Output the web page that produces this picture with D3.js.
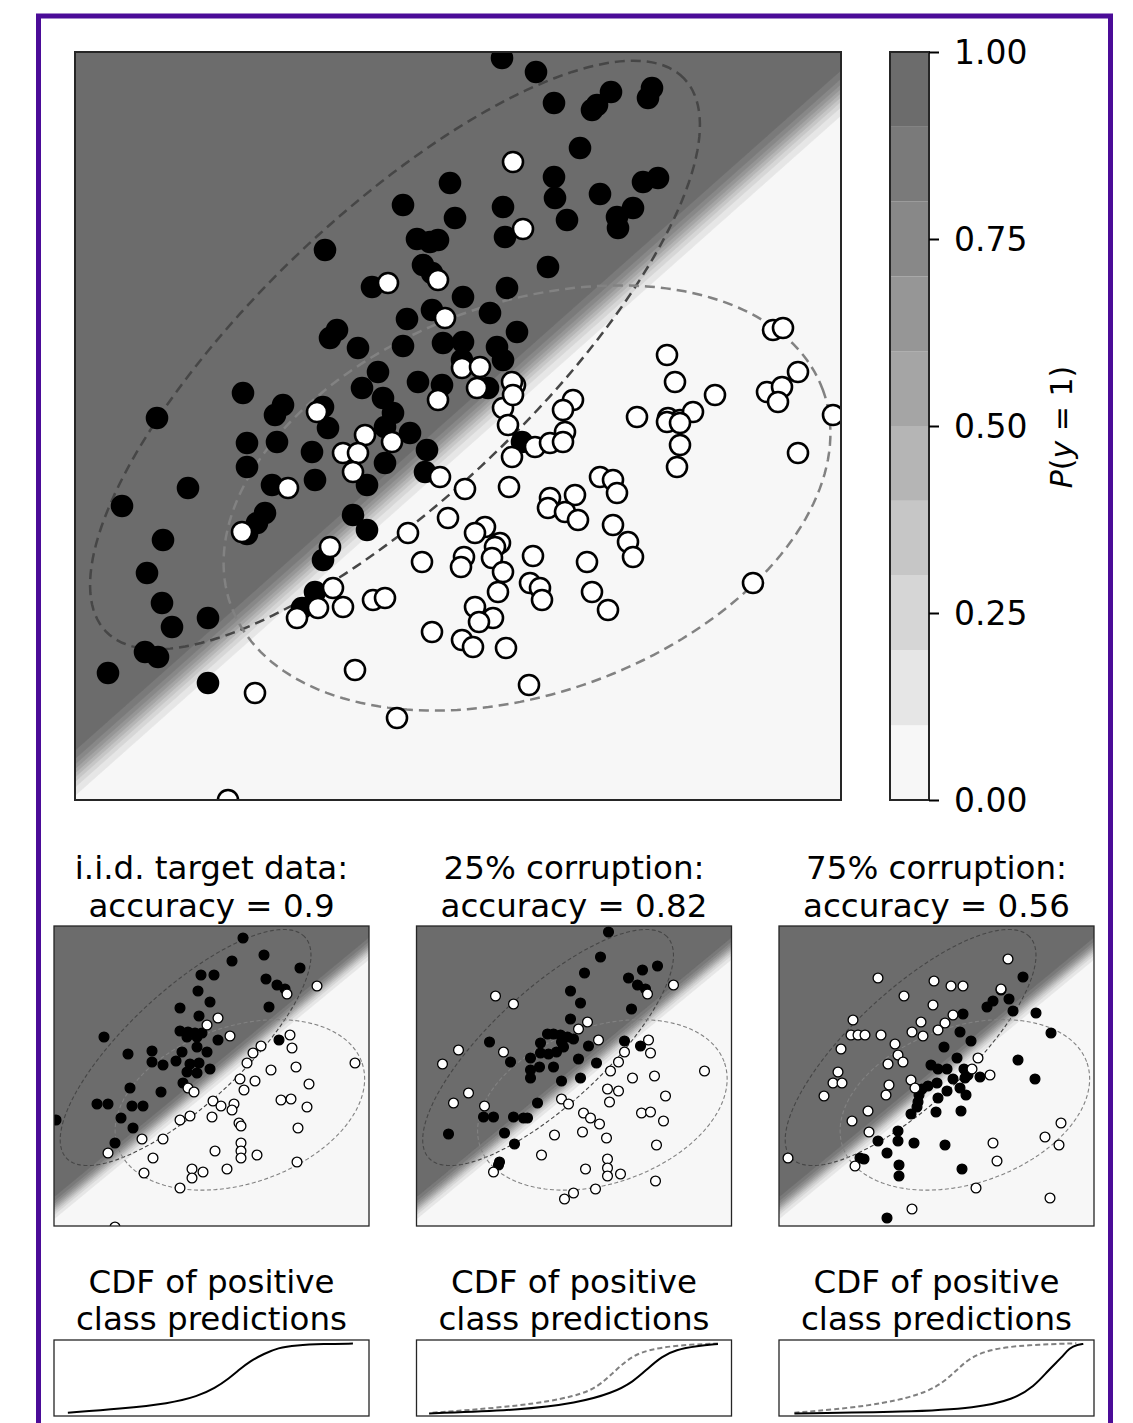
<!DOCTYPE html>
<html><head><meta charset="utf-8">
<script src="https://cdn.jsdelivr.net/npm/d3@7"></script>
<style>body{margin:0;background:#fff} svg{display:block} text{font-family:"DejaVu Sans",sans-serif;fill:#000}</style>
</head><body>
<svg id="fig" width="1133" height="1423"></svg>
<script>
// ---------------- DATA ----------------
// main scatter (data units), positive class (black) and negative class (white)
const mainPos = [[37.5,61.7],[32.8,59.5],[38.0,58.2],[34.2,56.1],[36.3,56.0],[35.5,55.8],[25.0,55.0],[34.8,53.5],[29.7,51.3],[35.7,52.7],[38.8,50.3],[33.2,48.1],[35.7,49.0],[26.2,47.0],[25.5,46.2],[28.3,45.2],[32.8,45.4],[36.8,45.7],[38.7,44.0],[30.3,42.8],[28.7,41.2],[30.8,40.2],[34.3,41.8],[36.7,41.5],[16.8,40.7],[20.8,39.5],[8.2,38.2],[20.0,38.5],[24.8,39.3],[31.8,38.7],
[42.7,74.2],[46.1,72.8],[47.9,69.7],[53.6,70.8],[52.2,69.5],[51.7,69.0],[57.7,71.2],[57.3,70.2],[50.5,65.2],[47.9,62.3],[48.0,60.2],[52.5,60.6],[56.8,61.8],[58.3,62.2],[42.8,59.3],[49.2,58.0],[54.2,58.3],[55.8,59.2],[54.3,57.2],[43.0,56.3],[47.3,53.3],[43.2,51.2],[41.5,48.7],[44.2,46.8],[38.8,45.8],[42.2,45.3],[42.8,44.0],[41.3,41.2],
[25.3,37.2],[31.0,37.3],[33.5,36.7],[17.2,35.7],[20.2,35.8],[23.7,34.8],[35.2,35.0],[31.0,33.7],[17.2,33.3],[35.0,32.8],[11.3,31.2],[19.7,31.5],[24.0,32.0],[29.2,31.5],[4.7,29.4],[19.0,28.7],[18.2,27.7],[17.2,26.6],[27.8,28.5],[29.2,27.0],[8.8,26.0],[24.8,24.0],[7.2,22.7],[24.0,20.8],[22.7,19.2],[8.7,19.7],[9.7,17.3],[13.3,18.2],[7.0,14.8],[8.3,14.3],[3.3,12.7],[13.3,11.7],[44.7,35.8]];
const mainNeg = [[31.3,51.7],[36.3,52.0],[37.0,48.2],[38.7,43.2],[36.3,40.0],[24.2,38.8],
[43.8,63.8],[44.8,57.1],[40.5,43.3],[40.2,41.2],[44.0,41.5],[43.7,41.8],[42.8,39.2],[43.8,40.5],[49.8,40.0],[48.8,39.0],[69.8,47.0],[70.8,47.2],[59.2,44.5],[60.0,41.8],[72.3,42.8],[69.2,40.8],[70.7,41.3],[70.3,39.8],[64.0,40.5],[56.2,38.3],[59.3,38.2],[60.5,38.0],[61.8,38.8],[75.8,38.5],
[29.0,36.5],[31.7,35.8],[26.8,34.7],[28.3,34.7],[27.8,32.8],[36.5,32.3],[21.3,31.2],[39.0,31.1],[16.7,26.8],[37.3,28.2],[33.3,26.7],[25.5,25.3],[34.7,23.8],[38.9,24.3],[38.6,23.3],[25.8,21.2],[22.2,18.2],[24.3,19.2],[26.8,19.3],[29.8,20.0],[31.0,20.2],[35.7,16.8],[38.7,16.0],[18.0,10.7],[28.0,13.0],[32.2,8.2],[15.3,0.0],
[43.3,37.5],[49.0,36.8],[46.0,35.3],[47.5,35.7],[48.8,35.8],[43.7,34.3],[59.2,37.8],[60.5,37.7],[60.5,35.5],[60.2,33.3],[72.3,34.7],[43.4,31.3],[52.5,32.3],[53.8,32.0],[54.2,30.7],[47.5,30.2],[47.3,29.2],[50.0,30.5],[49.0,28.8],[50.3,28.0],[53.8,27.5],[55.3,25.8],[55.8,24.3],[41.0,27.3],[40.0,26.7],[42.5,25.7],[42.0,25.3],[41.7,24.2],[42.8,22.8],[45.8,24.4],[51.2,23.8],[45.5,21.7],[46.5,21.2],[46.7,20.0],[42.3,20.8],[51.7,20.8],[53.3,19.0],[40.0,19.3],[41.8,18.2],[40.4,17.8],[39.8,15.3],[43.1,15.2],[67.8,21.7],[45.4,11.5]];

const mainDomainX = [0, 76.6];
const mainDomainY = [0, 74.8];
// logistic model: P(y=1) = sigmoid(w0*x + w1*y + b)
const mainModelW = [-0.863, 0.972];
const mainModelB = -2.62;
const panelModelW = [-1.64, 1.99];
const panelModelB = -3.58;
const panelDomainX = [0, 31.5];
const panelDomainY = [0, 30];

// class-conditional 2-sigma ellipses (data units)
const ellipseCenters = [[32.0, 44.5], [45.2, 30.2]];
const ellipseAxes = [[40, 14], [31.5, 19.5]];
const ellipseAngles = [43.7, 20];

// contour levels and colors
const levels = [0,0.1,0.2,0.3,0.4,0.5,0.6,0.7,0.8,0.9];
const levelColors = ["#f7f7f7","#e6e6e6","#d6d6d6","#c6c6c6","#b5b5b5","#a5a5a5","#969696","#888888","#7a7a7a","#6c6c6c"];
const cbarTicks = [0, 0.25, 0.5, 0.75, 1.0];
const cbarTickLabels = ["0.00","0.25","0.50","0.75","1.00"];

// small panels
const panelTitles1 = ["i.i.d. target data:", "25% corruption:", "75% corruption:"];
const panelTitles2 = ["accuracy = 0.9", "accuracy = 0.82", "accuracy = 0.56"];

const iidPos = [[18.9,28.8],[17.8,26.5],[21.0,27.1],[24.6,25.8],[14.7,25.1],[16.0,25.1],[21.2,24.7],[22.3,24.1],[23.1,23.7],[14.4,23.5],[15.6,22.4],[21.5,21.9],[12.6,21.8],[14.5,21.0],[12.6,19.5],[13.4,19.4],[14.1,19.3],[14.8,19.3],[13.3,18.9],[14.3,18.9],[16.4,18.6],[5.0,18.9],[14.3,17.9],[12.8,17.4],[15.3,17.4],[7.4,17.2],[9.8,17.5],[12.2,16.5],[10.9,16.1],[9.8,16.4],[13.6,16.2],[14.5,16.3],[15.6,15.7],[13.3,15.4],[14.3,15.3],[12.9,14.3],[7.6,13.8],[10.7,13.4],[22.5,18.6],[4.3,12.2],[5.4,12.2],[7.8,12.0],[8.9,12.0],[6.7,10.8],[0.2,10.6],[7.9,9.8],[6.1,8.3]];
const iidNeg = [[23.3,23.2],[26.3,24.0],[16.4,20.8],[15.3,20.1],[17.6,19.0],[23.6,19.1],[23.8,17.8],[20.7,18.0],[19.9,17.3],[19.3,16.3],[30.1,16.3],[21.7,15.6],[24.2,15.9],[18.6,14.7],[20.1,14.5],[19.0,13.6],[13.4,13.8],[14.0,13.4],[25.5,14.2],[15.9,12.5],[16.7,12.0],[18.0,12.2],[17.8,11.6],[22.7,12.6],[23.7,12.7],[25.3,11.9],[13.6,11.0],[12.6,10.6],[15.8,10.9],[18.5,10.3],[18.7,10.0],[24.4,9.8],[8.8,8.7],[10.9,8.7],[18.7,8.3],[18.7,7.5],[18.7,6.8],[20.3,7.1],[16.1,7.5],[9.9,6.8],[5.4,7.3],[24.3,6.4],[13.8,5.7],[13.8,4.8],[14.9,5.4],[17.3,5.7],[9.0,5.3],[12.6,3.8],[6.1,-0.1]];

const c25Pos = [[19.2,29.4],[18.4,26.9],[24.1,26.0],[22.6,25.6],[16.8,25.3],[21.2,24.8],[22.1,24.1],[22.9,23.7],[15.4,23.5],[16.4,22.3],[21.5,21.7],[15.4,20.7],[13.1,19.2],[13.7,19.2],[14.4,19.1],[15.1,18.9],[15.7,18.7],[14.5,18.4],[12.4,18.3],[14.7,17.9],[17.2,18.0],[7.3,18.4],[20.8,18.5],[22.4,18.0],[12.4,17.3],[13.2,17.2],[14.0,17.4],[11.4,16.8],[9.4,16.4],[12.3,15.9],[13.7,15.9],[16.2,16.7],[18.0,16.3],[11.4,15.6],[11.4,14.8],[16.4,14.8],[14.5,14.5],[12.1,12.3],[6.7,10.9],[7.7,10.9],[9.7,10.9],[10.7,10.8],[11.1,10.8],[8.8,9.3],[3.2,9.2],[9.8,8.2],[8.3,6.4],[8.2,6.1]];
const c25Neg = [[7.9,23.0],[9.7,22.2],[25.7,24.1],[23.1,23.2],[17.1,20.4],[16.2,19.7],[18.2,18.6],[23.2,18.6],[4.2,17.6],[8.7,17.4],[2.6,16.2],[23.4,17.3],[20.8,17.4],[20.2,16.4],[19.4,15.5],[28.8,15.5],[21.6,14.8],[23.8,15.0],[19.1,13.7],[20.2,13.5],[5.2,13.3],[3.7,12.3],[6.8,12.0],[14.5,12.7],[15.2,12.2],[19.3,12.4],[24.9,13.0],[22.5,11.3],[23.4,11.4],[16.7,11.3],[17.4,10.8],[18.3,10.2],[24.7,10.5],[13.8,9.1],[16.6,9.4],[19.0,8.8],[24.0,8.1],[12.5,7.1],[19.1,6.7],[19.1,5.8],[19.1,5.0],[20.4,5.2],[16.9,5.7],[7.7,5.4],[23.9,4.5],[17.9,3.7],[15.7,3.3],[14.8,2.7]];

const c75Pos = [[24.4,24.9],[22.2,23.6],[23.0,22.7],[21.4,22.5],[20.8,21.9],[23.4,21.5],[18.4,21.2],[25.7,21.3],[27.2,19.3],[18.1,19.4],[19.2,18.5],[16.5,17.9],[17.8,16.8],[23.9,16.6],[15.2,16.1],[15.9,15.7],[16.8,15.7],[18.5,15.7],[18.9,15.1],[18.6,14.8],[17.4,14.7],[20.1,14.9],[25.6,14.7],[15.8,14.3],[14.9,14.0],[14.3,13.7],[16.8,13.5],[18.1,13.8],[15.9,12.8],[14.0,13.1],[13.9,12.4],[13.8,11.9],[18.7,13.1],[13.2,11.2],[15.7,11.4],[18.2,11.5],[11.9,9.5],[11.9,8.5],[9.9,8.5],[13.5,8.3],[16.6,8.1],[10.8,7.3],[8.1,6.8],[8.5,6.7],[12.0,6.1],[12.0,5.0],[18.3,5.7],[10.8,0.8]];
const c75Neg = [[22.9,26.7],[9.9,24.8],[15.5,24.5],[17.2,24.0],[18.4,24.0],[12.5,23.0],[22.2,23.7],[15.4,22.1],[17.4,21.1],[7.4,20.6],[14.2,20.4],[16.6,20.3],[15.9,19.6],[13.3,19.4],[14.4,19.0],[7.2,19.1],[7.9,19.1],[8.6,19.1],[10.2,19.1],[11.6,18.2],[6.2,17.7],[11.9,17.1],[12.4,16.4],[10.9,16.2],[5.9,15.4],[5.4,14.3],[6.3,14.3],[13.2,14.6],[11.0,14.1],[13.6,13.8],[4.5,13.0],[10.7,13.1],[19.9,16.8],[19.3,15.7],[21.1,15.1],[8.9,11.5],[7.3,10.5],[9.0,9.4],[28.2,10.3],[26.6,8.9],[28.0,8.1],[21.4,8.3],[21.8,6.5],[0.9,6.8],[7.6,6.0],[19.7,3.8],[27.1,2.8],[13.3,1.7]];

// CDF panels (normalized score, cumulative fraction)
const cdfTitle1 = "CDF of positive";
const cdfTitle2 = "class predictions";
const cdfIid = [[0.044,0.043],[0.211,0.095],[0.367,0.164],[0.456,0.259],[0.511,0.366],[0.556,0.496],[0.589,0.612],[0.622,0.72],[0.667,0.819],[0.711,0.897],[0.767,0.931],[0.856,0.948],[0.949,0.953]];
const cdf25Ref = [[0.051,0.043],[0.331,0.129],[0.51,0.259],[0.577,0.388],[0.622,0.56],[0.667,0.733],[0.711,0.84],[0.779,0.905],[0.868,0.94],[0.957,0.953]];
const cdf25 = [[0.04,0.034],[0.331,0.078],[0.51,0.172],[0.622,0.302],[0.689,0.453],[0.734,0.625],[0.779,0.784],[0.823,0.871],[0.89,0.922],[0.957,0.948]];
const cdf75Ref = [[0.049,0.043],[0.295,0.129],[0.452,0.28],[0.519,0.431],[0.564,0.603],[0.609,0.776],[0.676,0.884],[0.787,0.935],[0.944,0.957]];
const cdf75 = [[0.049,0.034],[0.407,0.052],[0.631,0.108],[0.743,0.216],[0.81,0.388],[0.855,0.603],[0.899,0.776],[0.922,0.897],[0.949,0.94],[0.966,0.948]];

// ---------------- DRAW ----------------
const svg = d3.select("#fig");
const sigmoid = z => 1/(1+Math.exp(-z));

// purple frame
svg.append("rect").attr("x",38.5).attr("y",16).attr("width",1072).attr("height",1450)
  .attr("fill","none").attr("stroke","#4b0c98").attr("stroke-width",5);

let clipId = 0;
function drawPanel(opts){
  const {left, top, W, H, xDom, yDom, w, b, pos, neg, r, sw, ellW, ellDash, nx, ny} = opts;
  const g = svg.append("g").attr("transform",`translate(${left},${top})`);
  const id = "clip"+(clipId++);
  g.append("clipPath").attr("id",id).append("rect").attr("width",W).attr("height",H);
  const body = g.append("g").attr("clip-path",`url(#${id})`);
  const x = d3.scaleLinear().domain(xDom).range([0,W]);
  const y = d3.scaleLinear().domain(yDom).range([H,0]);
  const vals = new Array(nx*ny);
  for(let j=0;j<ny;j++) for(let i=0;i<nx;i++){
    const dx = x.invert((i+0.5)*W/nx), dy = y.invert((j+0.5)*H/ny);
    vals[j*nx+i] = sigmoid(w[0]*dx + w[1]*dy + b);
  }
  const contours = d3.contours().size([nx,ny]).thresholds(levels)(vals);
  const path = d3.geoPath(d3.geoTransform({point(px,py){ this.stream.point(px*W/nx, py*H/ny); }}));
  body.append("rect").attr("width",W).attr("height",H).attr("fill",levelColors[0]);
  body.selectAll("path.c").data(contours).join("path").attr("class","c")
    .attr("d",path).attr("fill",(d,i)=>levelColors[i]).attr("stroke",(d,i)=>levelColors[i]).attr("stroke-width",0.5);
  const ex = d3.scaleLinear().domain(mainDomainX).range([0,W]);
  const ey = d3.scaleLinear().domain(mainDomainY).range([H,0]);
  const ellColors = ["#464646","#828282"];
  ellipseCenters.forEach((c,k)=>{
    const [a,bb] = ellipseAxes[k]; const phi = ellipseAngles[k]*Math.PI/180;
    const pts = d3.range(0,360,2).map(t=>{ const tt=t*Math.PI/180;
      return [c[0]+a*Math.cos(tt)*Math.cos(phi)-bb*Math.sin(tt)*Math.sin(phi),
              c[1]+a*Math.cos(tt)*Math.sin(phi)+bb*Math.sin(tt)*Math.cos(phi)]; });
    body.append("path").attr("d", d3.line().x(d=>ex(d[0])).y(d=>ey(d[1])).curve(d3.curveLinearClosed)(pts))
      .attr("fill","none").attr("stroke",ellColors[k]).attr("stroke-width",ellW).attr("stroke-dasharray",ellDash);
  });
  body.selectAll("circle.p").data(pos).join("circle").attr("class","p")
    .attr("cx",d=>x(d[0])).attr("cy",d=>y(d[1])).attr("r",r).attr("fill","#000").attr("stroke","#000").attr("stroke-width",sw);
  body.selectAll("circle.n").data(neg).join("circle").attr("class","n")
    .attr("cx",d=>x(d[0])).attr("cy",d=>y(d[1])).attr("r",r).attr("fill","#fff").attr("stroke","#000").attr("stroke-width",sw);
  g.append("rect").attr("width",W).attr("height",H).attr("fill","none").attr("stroke","#262626").attr("stroke-width",opts.frame);
  return g;
}

// main panel
drawPanel({left:75, top:52, W:766, H:748, xDom:mainDomainX, yDom:mainDomainY, w:mainModelW, b:mainModelB,
  pos:mainPos, neg:mainNeg, r:10, sw:2.6, ellW:2.5, ellDash:"10,6", nx:383, ny:374, frame:2});

// colorbar
const cb = svg.append("g").attr("transform","translate(890,52)");
const cbY = d3.scaleLinear().domain([0,1]).range([748,0]);
cb.selectAll("rect.band").data(levels).join("rect").attr("class","band")
  .attr("x",0).attr("width",39).attr("y",d=>cbY(d+0.1)).attr("height",d=>cbY(d)-cbY(d+0.1))
  .attr("fill",(d,i)=>levelColors[i]);
cb.append("rect").attr("width",39).attr("height",748).attr("fill","none").attr("stroke","#262626").attr("stroke-width",2);
const cbAxis = d3.axisRight(cbY).tickValues(cbarTicks).tickFormat((d,i)=>cbarTickLabels[i]).tickSize(10).tickPadding(15);
const cbA = cb.append("g").attr("transform","translate(39,0)").call(cbAxis);
cbA.select(".domain").remove();
cbA.selectAll(".tick line").attr("stroke","#000").attr("stroke-width",2);
cbA.selectAll(".tick text").attr("font-size",33).attr("font-family","DejaVu Sans").attr("fill","#000").attr("dy","0.35em");
const lab = svg.append("text").attr("transform","translate(1072,427) rotate(-90)").attr("text-anchor","middle").attr("font-size",30);
lab.append("tspan").attr("font-style","italic").text("P");
lab.append("tspan").text("(");
lab.append("tspan").attr("font-style","italic").text("y");
lab.append("tspan").text(" = 1)");

// small panels
const panelLefts = [54, 416.5, 779];
const panelPos = [iidPos, c25Pos, c75Pos];
const panelNeg = [iidNeg, c25Neg, c75Neg];
panelLefts.forEach((L,k)=>{
  const cx = L + 157.5;
  svg.append("text").attr("x",cx).attr("y",879).attr("text-anchor","middle").attr("font-size",32.5).text(panelTitles1[k]);
  svg.append("text").attr("x",cx).attr("y",917).attr("text-anchor","middle").attr("font-size",32.5).text(panelTitles2[k]);
  drawPanel({left:L, top:926, W:315, H:300, xDom:panelDomainX, yDom:panelDomainY, w:panelModelW, b:panelModelB,
    pos:panelPos[k], neg:panelNeg[k], r:4.9, sw:1.3, ellW:1.1, ellDash:"4,2.5", nx:158, ny:150, frame:1.3});
});

// CDF panels
const cdfSolid = [cdfIid, cdf25, cdf75];
const cdfRef = [null, cdf25Ref, cdf75Ref];
panelLefts.forEach((L,k)=>{
  const cx = L + 157.5;
  svg.append("text").attr("x",cx).attr("y",1293).attr("text-anchor","middle").attr("font-size",32.5).text(cdfTitle1);
  svg.append("text").attr("x",cx).attr("y",1330).attr("text-anchor","middle").attr("font-size",32.5).text(cdfTitle2);
  const g = svg.append("g").attr("transform",`translate(${L},1340)`);
  const W=315, H=76;
  const x = d3.scaleLinear().domain([0,1]).range([0,W]);
  const y = d3.scaleLinear().domain([0,1]).range([H,0]);
  const line = d3.line().x(d=>x(d[0])).y(d=>y(d[1])).curve(d3.curveBasis);
  if(cdfRef[k]) g.append("path").attr("d",line(cdfRef[k])).attr("fill","none").attr("stroke","#808080").attr("stroke-width",2).attr("stroke-dasharray","5,3");
  g.append("path").attr("d",line(cdfSolid[k])).attr("fill","none").attr("stroke","#000").attr("stroke-width",2);
  g.append("rect").attr("width",W).attr("height",H).attr("fill","none").attr("stroke","#262626").attr("stroke-width",1.3);
});
</script>
</body></html>
